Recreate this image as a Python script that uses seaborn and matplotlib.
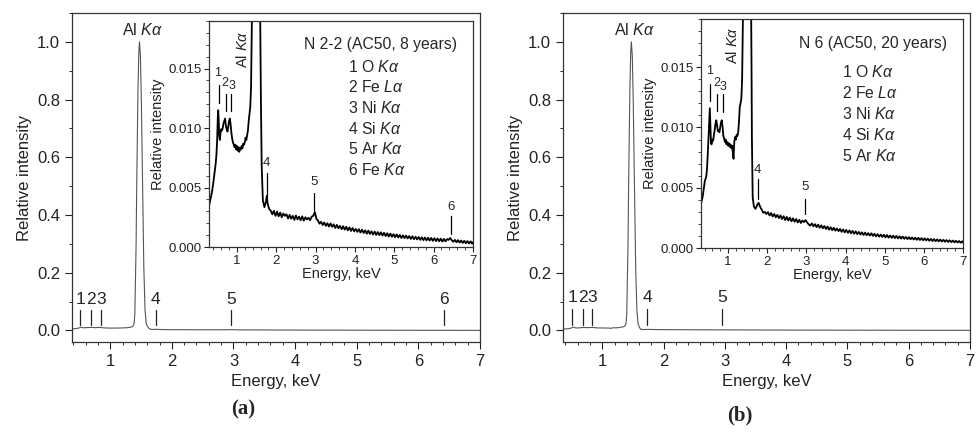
import numpy as np
import pandas as pd
import matplotlib
matplotlib.use("Agg")
import matplotlib.pyplot as plt
from matplotlib.ticker import MultipleLocator, FormatStrFormatter
import seaborn as sns

# ---------------- data (intensities in units of 1e-5 relative intensity) ----------------
energy_low_a = [0.30, 0.34, 0.37, 0.40, 0.43, 0.46, 0.48, 0.50, 0.515, 0.525, 0.535, 0.55, 0.565, 0.58,
                0.60, 0.62, 0.64, 0.66, 0.68, 0.70, 0.72, 0.74, 0.76, 0.78, 0.80, 0.82, 0.84, 0.86, 0.88,
                0.90, 0.92, 0.94, 0.96, 0.98, 1.00, 1.02, 1.04, 1.06, 1.08, 1.10, 1.12, 1.14, 1.16, 1.18,
                1.20, 1.22, 1.24, 1.26, 1.28, 1.30, 1.32, 1.34, 1.36]
intens_low_a = [360, 420, 470, 540, 620, 700, 780, 920, 1100, 1150, 1080, 940, 900, 950,
                990, 980, 1000, 1040, 1060, 1080, 1020, 990, 970, 1010, 1060, 1080, 1030, 960, 910,
                880, 860, 840, 860, 820, 850, 810, 840, 800, 830, 820, 850, 830, 870, 860,
                880, 920, 900, 940, 980, 1060, 1120, 1180, 1350]

energy_low_b = [0.31, 0.35, 0.385, 0.41, 0.44, 0.46, 0.48, 0.50, 0.52, 0.535, 0.55, 0.565, 0.58,
                0.60, 0.62, 0.64, 0.66, 0.68, 0.70, 0.72, 0.74, 0.76, 0.78, 0.80, 0.82, 0.84, 0.86, 0.88,
                0.90, 0.92, 0.94, 0.96, 0.98, 1.00, 1.02, 1.04, 1.06, 1.08, 1.10, 1.12, 1.14, 1.16, 1.18,
                1.20, 1.22, 1.24, 1.26, 1.28, 1.30, 1.32, 1.34, 1.36]
intens_low_b = [370, 420, 500, 560, 585, 640, 760, 900, 1060, 1160, 1000, 870, 860,
                900, 890, 940, 980, 1030, 1060, 1020, 970, 980, 960, 1000, 1040, 1060, 1010, 930,
                910, 880, 900, 860, 880, 850, 870, 840, 860, 830, 850, 800, 740, 880, 920,
                900, 940, 930, 960, 1050, 1170, 1200, 1240, 1400]

# Al K-alpha peak region (main-panel scale)
energy_peak_a = [1.38, 1.39, 1.40, 1.42, 1.43, 1.45, 1.465, 1.475, 1.49, 1.505, 1.525, 1.545, 1.565,
                 1.585, 1.60, 1.61, 1.63, 1.66]
intens_peak_a = [1900, 2800, 6000, 30000, 50000, 83000, 97000, 100000, 95000, 80000, 50000, 22000, 7000,
                 2200, 1600, 1240, 680, 390]
energy_peak_b = [1.38, 1.39, 1.40, 1.42, 1.43, 1.45, 1.465, 1.475, 1.49, 1.505, 1.525, 1.545, 1.565,
                 1.585, 1.60, 1.61, 1.63, 1.66]
intens_peak_b = [1900, 2800, 6000, 30000, 50000, 83000, 97000, 100000, 95000, 80000, 50000, 22000, 7000,
                 2200, 1500, 900, 420, 345]

energy_tail = [1.70, 1.74, 1.76, 1.78, 1.82, 1.86, 1.90, 1.94, 1.98, 2.02, 2.06, 2.10, 2.14, 2.18, 2.22,
               2.26, 2.30, 2.34, 2.38, 2.42, 2.46, 2.50, 2.54, 2.58, 2.62, 2.66, 2.70, 2.74, 2.78, 2.82,
               2.86, 2.90, 2.94, 2.98, 3.02, 3.06, 3.10, 3.14, 3.18, 3.22, 3.26, 3.30, 3.34, 3.38, 3.42,
               3.46, 3.50, 3.54, 3.58, 3.62, 3.66, 3.70, 3.74, 3.78, 3.82, 3.86, 3.90, 3.94, 3.98, 4.02,
               4.06, 4.10, 4.14, 4.18, 4.22, 4.26, 4.30, 4.34, 4.38, 4.42, 4.46, 4.50, 4.54, 4.58, 4.62,
               4.66, 4.70, 4.74, 4.78, 4.82, 4.86, 4.90, 4.94, 4.98, 5.02, 5.06, 5.10, 5.14, 5.18, 5.22,
               5.26, 5.30, 5.34, 5.38, 5.42, 5.46, 5.50, 5.54, 5.58, 5.62, 5.66, 5.70, 5.74, 5.78, 5.82,
               5.86, 5.90, 5.94, 5.98, 6.02, 6.06, 6.10, 6.14, 6.18, 6.22, 6.26, 6.30, 6.34, 6.38, 6.42,
               6.46, 6.50, 6.54, 6.58, 6.62, 6.66, 6.70, 6.74, 6.78, 6.82, 6.86, 6.90, 6.94, 6.98, 7.00]
intens_tail_a = [335, 385, 430, 365, 320, 305, 275, 305, 262, 298, 258, 290, 250, 282, 262,
                 275, 240, 270, 238, 262, 228, 265, 232, 255, 225, 258, 222, 250, 232, 246,
                 226, 255, 262, 295, 238, 222, 196, 212, 185, 206, 178, 200, 172, 198, 170,
                 190, 160, 186, 158, 178, 150, 175, 146, 170, 140, 165, 135, 160, 132, 152,
                 128, 150, 122, 146, 118, 140, 112, 138, 110, 132, 105, 130, 102, 126, 100,
                 124, 96, 120, 92, 116, 88, 113, 86, 108, 82, 106, 80, 102, 76, 98,
                 75, 96, 72, 92, 68, 90, 66, 86, 64, 84, 60, 82, 58, 80, 56,
                 78, 54, 76, 52, 74, 50, 72, 48, 70, 46, 68, 48, 66, 60, 76,
                 58, 44, 60, 40, 58, 38, 55, 34, 52, 32, 50, 30, 48, 28, 40]
intens_tail_b = [325, 352, 368, 375, 342, 318, 292, 300, 282, 298, 270, 290, 262, 282, 255,
                 275, 248, 270, 240, 264, 232, 258, 228, 252, 222, 246, 218, 240, 212, 234,
                 208, 228, 215, 232, 212, 196, 186, 204, 180, 198, 174, 194, 168, 188, 164,
                 182, 158, 178, 152, 172, 148, 168, 144, 162, 140, 158, 134, 154, 130, 150,
                 126, 146, 122, 142, 118, 138, 115, 134, 112, 130, 108, 128, 106, 124, 103,
                 122, 100, 118, 96, 115, 94, 112, 92, 110, 88, 108, 86, 104, 84, 102,
                 82, 100, 80, 97, 78, 95, 76, 92, 74, 90, 72, 88, 70, 86, 68,
                 85, 66, 83, 64, 80, 62, 78, 60, 76, 58, 74, 56, 72, 55, 70,
                 54, 68, 52, 66, 50, 64, 49, 62, 47, 60, 46, 58, 44, 56, 45]

main_ticks_y = [0.0, 0.2, 0.4, 0.6, 0.8, 1.0]
inset_ticks_y = [0.000, 0.005, 0.010, 0.015]
energy_ticks = [1, 2, 3, 4, 5, 6, 7]

line_labels_a = ["1", "2", "3", "4", "5", "6"]
line_energy_main_a = [0.51, 0.69, 0.85, 1.735, 2.96, 6.42]
line_energy_inset_a = [0.54, 0.72, 0.86, 1.76, 2.96, 6.44]
line_labels_b = ["1", "2", "3", "4", "5"]
line_energy_main_b = [0.51, 0.685, 0.83, 1.73, 2.95]
line_energy_inset_b = [0.54, 0.73, 0.86, 1.76, 2.97]

legend_a_title = "N 2-2 (AC50, 8 years)"
legend_b_title = "N 6 (AC50, 20 years)"
legend_lines = ["1 O $K\\alpha$", "2 Fe $L\\alpha$", "3 Ni $K\\alpha$", "4 Si $K\\alpha$",
                "5 Ar $K\\alpha$", "6 Fe $K\\alpha$"]


def build(el, il, ep, ip, it):
    e = list(el) + list(ep) + list(energy_tail)
    i = list(il) + list(ip) + list(it)
    return pd.DataFrame({"energy": e, "intensity": np.array(i, dtype=float) * 1e-5})


df_a = build(energy_low_a, intens_low_a, energy_peak_a, intens_peak_a, intens_tail_a)
df_b = build(energy_low_b, intens_low_b, energy_peak_b, intens_peak_b, intens_tail_b)

# ---------------- style ----------------
sns.set_style("ticks")
plt.rcParams["font.family"] = ["Liberation Sans", "DejaVu Sans"]
plt.rcParams["mathtext.fontset"] = "custom"
plt.rcParams["mathtext.rm"] = "Liberation Sans"
plt.rcParams["mathtext.it"] = "Liberation Sans:italic"
plt.rcParams["mathtext.bf"] = "Liberation Sans:bold"
plt.rcParams["axes.edgecolor"] = "#333333"
plt.rcParams["axes.linewidth"] = 0.9

fig = plt.figure(figsize=(9.77, 4.32), dpi=100)
ax_a = fig.add_axes([0.0737, 0.2083, 0.4176, 0.7617])
ax_b = fig.add_axes([0.5763, 0.2083, 0.4165, 0.7617])
ins_a = fig.add_axes([0.2139, 0.4282, 0.2702, 0.5232])
ins_b = fig.add_axes([0.7175, 0.4259, 0.2682, 0.5301])


def style_main(ax, xlim):
    sns.despine(ax=ax, top=False, right=False)
    ax.set_xlim(*xlim)
    ax.set_ylim(-0.04, 1.1)
    ax.set_xticks(energy_ticks)
    ax.set_yticks(main_ticks_y)
    ax.xaxis.set_minor_locator(MultipleLocator(0.2))
    ax.yaxis.set_minor_locator(MultipleLocator(0.1))
    ax.yaxis.set_major_formatter(FormatStrFormatter("%.1f"))
    ax.tick_params(which="major", direction="out", length=5, width=0.8, labelsize=12, colors="#222222")
    ax.tick_params(which="minor", direction="out", length=2.5, width=0.7)
    ax.set_xlabel("Energy, keV", fontsize=12, color="#222222")
    ax.set_ylabel("Relative intensity", fontsize=12, color="#222222")


def style_inset(ax, xlim):
    sns.despine(ax=ax, top=False, right=False)
    ax.set_xlim(*xlim)
    ax.set_ylim(0, 0.019)
    ax.set_xticks(energy_ticks)
    ax.set_yticks(inset_ticks_y)
    ax.xaxis.set_minor_locator(MultipleLocator(0.2))
    ax.yaxis.set_minor_locator(MultipleLocator(0.001))
    ax.yaxis.set_major_formatter(FormatStrFormatter("%.3f"))
    ax.tick_params(which="major", direction="out", length=3.5, width=0.8, labelsize=9.5, colors="#222222", pad=2)
    ax.tick_params(which="minor", direction="out", length=2, width=0.6)
    ax.set_xlabel("Energy, keV", fontsize=10.5, color="#222222", labelpad=0)
    ax.set_ylabel("Relative intensity", fontsize=10.5, color="#222222", labelpad=2)


for ax, ins, df, xl_main, xl_ins in [(ax_a, ins_a, df_a, (0.38, 7), (0.29, 7)),
                                     (ax_b, ins_b, df_b, (0.36, 7), (0.31, 7))]:
    sns.lineplot(data=df, x="energy", y="intensity", ax=ax, color="#555555", linewidth=0.8,
                 estimator=None, sort=False)
    sns.lineplot(data=df, x="energy", y="intensity", ax=ins, color="black", linewidth=1.3,
                 estimator=None, sort=False)
    style_main(ax, xl_main)
    style_inset(ins, xl_ins)
    ax.text(1.53, 1.04, "Al $K\\alpha$", ha="center", va="center", fontsize=11.5)

# main-panel line markers
for lab, e in zip(line_labels_a, line_energy_main_a):
    ax_a.plot([e, e], [0.02, 0.07], color="#222222", lw=0.9)
    ax_a.text(e, 0.107, lab, ha="center", va="center", fontsize=12.5)
for lab, e in zip(line_labels_b, line_energy_main_b):
    ax_b.plot([e, e], [0.02, 0.075], color="#222222", lw=0.9)
    ax_b.text(e, 0.115, lab, ha="center", va="center", fontsize=12.5)

# inset line markers
inset_a_spans = [(0.0121, 0.0136), (0.01145, 0.0129), (0.0114, 0.0129), (0.0042, 0.0062), (0.0031, 0.0045), (0.0011, 0.0026)]
inset_a_labely = [0.0146, 0.0138, 0.0135, 0.0071, 0.0055, 0.0034]
inset_a_labdx = [-0.03, -0.03, 0.01, 0, 0, 0]
for lab, e, (y0, y1), yl, dx in zip(line_labels_a, line_energy_inset_a, inset_a_spans, inset_a_labely, inset_a_labdx):
    ins_a.plot([e, e], [y0, y1], color="black", lw=0.9)
    ins_a.text(e + dx, yl, lab, ha="center", va="center", fontsize=9 if lab in "123" else 9.5)
inset_b_spans = [(0.0122, 0.0136), (0.0114, 0.0128), (0.0113, 0.0128), (0.0041, 0.0057), (0.0028, 0.0041)]
inset_b_labely = [0.0147, 0.0137, 0.0134, 0.0065, 0.0051]
inset_b_labdx = [-0.02, -0.02, 0.02, 0, 0]
for lab, e, (y0, y1), yl, dx in zip(line_labels_b, line_energy_inset_b, inset_b_spans, inset_b_labely, inset_b_labdx):
    ins_b.plot([e, e], [y0, y1], color="black", lw=0.9)
    ins_b.text(e + dx, yl, lab, ha="center", va="center", fontsize=9 if lab in "123" else 9.5)

ins_a.text(1.14, 0.0166, "Al $K\\alpha$", rotation=90, ha="center", va="center", fontsize=10.5)
ins_b.text(1.11, 0.0168, "Al $K\\alpha$", rotation=90, ha="center", va="center", fontsize=10.5)

# legend-like text blocks
ins_a.text(0.648, 0.894, legend_a_title, transform=ins_a.transAxes, ha="center", va="center", fontsize=11.3)
for k, t in enumerate(legend_lines):
    ins_a.text(0.525, 0.798 - 0.0916 * k, t, transform=ins_a.transAxes, ha="left", va="center", fontsize=11.3)
ins_b.text(0.658, 0.894, legend_b_title, transform=ins_b.transAxes, ha="center", va="center", fontsize=11.3)
for k, t in enumerate(legend_lines[:5]):
    ins_b.text(0.537, 0.770 - 0.0917 * k, t, transform=ins_b.transAxes, ha="left", va="center", fontsize=11.3)

fig.text(0.249, 0.051, "(a)", ha="center", va="center", fontsize=15, fontweight="bold",
         family=["Liberation Serif", "DejaVu Serif"])
fig.text(0.757, 0.039, "(b)", ha="center", va="center", fontsize=15, fontweight="bold",
         family=["Liberation Serif", "DejaVu Serif"])

fig.savefig("out.png", dpi=100)
